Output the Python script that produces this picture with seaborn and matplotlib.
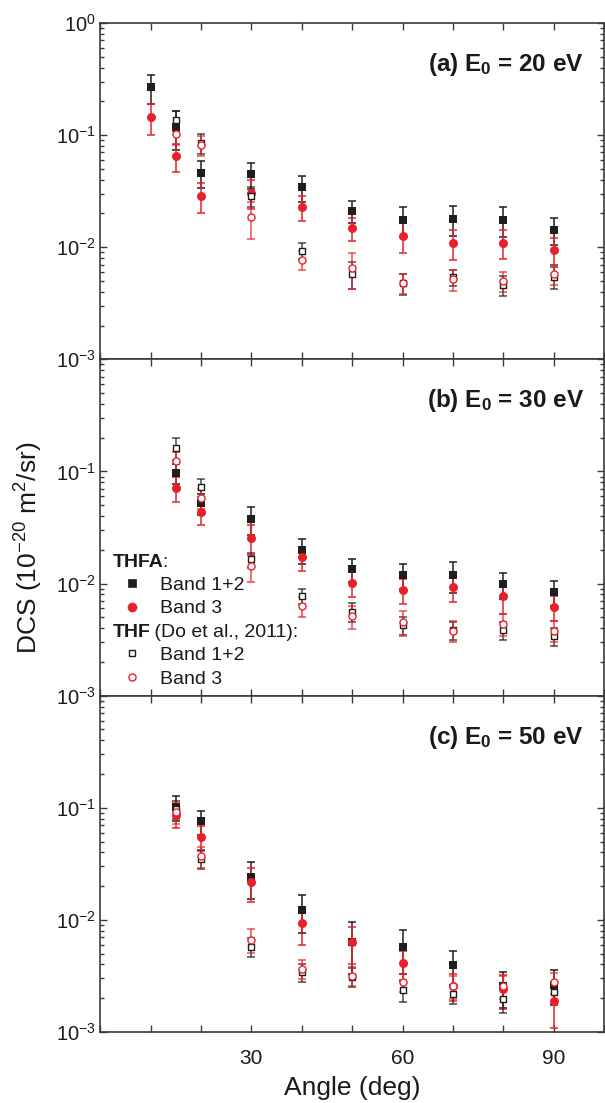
import numpy as np
import pandas as pd
import matplotlib
matplotlib.use("Agg")
import matplotlib.pyplot as plt
import seaborn as sns
from matplotlib.lines import Line2D
from matplotlib.ticker import MultipleLocator, LogLocator, FixedLocator, FixedFormatter, NullFormatter

# ---------------- data ----------------
angles_thfa_a = [10, 15, 20, 30, 40, 50, 60, 70, 80, 90]
angles = [15, 20, 30, 40, 50, 60, 70, 80, 90]

# (a) E0 = 20 eV
a_thfa_b12 = [0.266, 0.119, 0.046, 0.0446, 0.0342, 0.021, 0.0175, 0.0179, 0.0175, 0.0143]
a_thfa_b12_err = [0.075, 0.045, 0.0126, 0.0114, 0.0088, 0.0047, 0.0053, 0.0053, 0.0052, 0.0038]
a_thfa_b3 = [0.144, 0.065, 0.0288, 0.0306, 0.0227, 0.0148, 0.0126, 0.0109, 0.011, 0.00946]
a_thfa_b3_err = [0.044, 0.018, 0.0086, 0.0088, 0.0057, 0.0035, 0.0037, 0.0032, 0.0032, 0.0026]
a_thf_b12 = [0.136, 0.0843, 0.0287, 0.0093, 0.0058, 0.00478, 0.0054, 0.0046, 0.00547]
a_thf_b12_err = [0.028, 0.017, 0.0057, 0.0015, 0.0016, 0.0010, 0.0009, 0.0009, 0.0012]
a_thf_b3 = [0.102, 0.0815, 0.0186, 0.0077, 0.0065, 0.0048, 0.0052, 0.0050, 0.0058]
a_thf_b3_err = [0.020, 0.017, 0.0068, 0.0015, 0.0023, 0.0010, 0.0011, 0.0010, 0.0012]

# (b) E0 = 30 eV
b_thfa_b12 = [0.0968, 0.052, 0.0375, 0.0199, 0.0135, 0.0119, 0.0119, 0.0099, 0.0084]
b_thfa_b12_err = [0.020, 0.011, 0.0105, 0.0050, 0.0031, 0.0029, 0.0036, 0.0026, 0.0021]
b_thfa_b3 = [0.071, 0.0438, 0.0257, 0.0171, 0.0101, 0.0088, 0.0094, 0.0077, 0.0062]
b_thfa_b3_err = [0.018, 0.0105, 0.0076, 0.0041, 0.0025, 0.0022, 0.0025, 0.0023, 0.0016]
b_thf_b12 = [0.162, 0.0725, 0.0164, 0.0078, 0.0056, 0.00425, 0.00383, 0.00383, 0.00338]
b_thf_b12_err = [0.035, 0.013, 0.0025, 0.0012, 0.0011, 0.0008, 0.0007, 0.0007, 0.0006]
b_thf_b3 = [0.123, 0.0578, 0.0143, 0.0063, 0.0051, 0.00454, 0.0038, 0.0044, 0.0038]
b_thf_b3_err = [0.025, 0.012, 0.0040, 0.0013, 0.0012, 0.0011, 0.0008, 0.0010, 0.0008]

# (c) E0 = 50 eV
c_thfa_b12 = [0.102, 0.0757, 0.024, 0.0122, 0.0064, 0.0057, 0.00395, 0.00255, 0.00264]
c_thfa_b12_err = [0.026, 0.018, 0.0085, 0.0046, 0.0031, 0.0024, 0.0013, 0.0009, 0.0009]
c_thfa_b3 = [0.0867, 0.0548, 0.0216, 0.0093, 0.0063, 0.0041, 0.00258, 0.00241, 0.00189]
c_thfa_b3_err = [0.021, 0.014, 0.0072, 0.0033, 0.0023, 0.0012, 0.0007, 0.0008, 0.0008]
c_thf_b12 = [0.098, 0.0352, 0.00578, 0.0034, 0.0031, 0.00235, 0.00218, 0.00197, 0.00226]
c_thf_b12_err = [0.018, 0.0068, 0.0011, 0.0006, 0.0006, 0.0005, 0.0004, 0.0005, 0.0005]
c_thf_b3 = [0.092, 0.0369, 0.00664, 0.00368, 0.00317, 0.00277, 0.00255, 0.00255, 0.00277]
c_thf_b3_err = [0.020, 0.008, 0.0016, 0.0007, 0.0006, 0.0005, 0.0006, 0.0006, 0.0006]

panel_titles = ["(a) E$_{\\mathregular{0}}$ = 20 eV",
                "(b) E$_{\\mathregular{0}}$ = 30 eV",
                "(c) E$_{\\mathregular{0}}$ = 50 eV"]
legend_labels = ["Band 1+2", "Band 3", "Band 1+2", "Band 3"]
legend_headers = [("THFA", ":"), ("THF", " (Do et al., 2011):")]
xtick_vals = [30, 60, 90]
ytick_vals = [1e-3, 1e-2, 1e-1, 1e0]
xlabel = "Angle (deg)"
ylabel = "DCS (10$^{\\mathregular{-20}}$ m$^{\\mathregular{2}}$/sr)"

# ---------------- style ----------------
sns.set_style("ticks")
plt.rcParams["font.family"] = ["Liberation Sans", "DejaVu Sans"]
plt.rcParams["mathtext.fontset"] = "custom"
plt.rcParams["mathtext.rm"] = "Liberation Sans"
plt.rcParams["mathtext.bf"] = "Liberation Sans:bold"
plt.rcParams["mathtext.it"] = "Liberation Sans:italic"

BLACK = "#1e1e1e"
RED = "#e8202a"
SPINE = "#3a3a3a"
TXT = "#1a1a1a"

fig = plt.figure(figsize=(6.05, 11.03), dpi=100)
left, width, height = 0.1658, 0.8326, 0.3049
bottoms = [0.6743, 0.3693, 0.0644]
axes = [fig.add_axes([left, b, width, height]) for b in bottoms]

panels = [
    (angles_thfa_a, a_thfa_b12, a_thfa_b12_err, a_thfa_b3, a_thfa_b3_err,
     a_thf_b12, a_thf_b12_err, a_thf_b3, a_thf_b3_err),
    (angles, b_thfa_b12, b_thfa_b12_err, b_thfa_b3, b_thfa_b3_err,
     b_thf_b12, b_thf_b12_err, b_thf_b3, b_thf_b3_err),
    (angles, c_thfa_b12, c_thfa_b12_err, c_thfa_b3, c_thfa_b3_err,
     c_thf_b12, c_thf_b12_err, c_thf_b3, c_thf_b3_err),
]

legend_handles = None
for i, (ax, p) in enumerate(zip(axes, panels)):
    xa, y12, e12, y3, e3, t12, te12, t3, te3 = p
    series = [
        (xa, y12, e12, BLACK, "s", BLACK, 34, 0.0, 1.0),
        (xa, y3, e3, RED, "o", RED, 42, 0.0, 1.0),
        (angles, t12, te12, BLACK, "s", "white", 22, 1.0, 0.8),
        (angles, t3, te3, RED, "o", "white", 26, 1.0, 0.8),
    ]
    handles = []
    for k, (x, y, e, col, mk, fc, s, lw, al) in enumerate(series):
        ax.errorbar(x, y, yerr=e, fmt="none", ecolor=col, elinewidth=1.1,
                    capsize=3, capthick=1.1, alpha=al, zorder=2 + k)
        df = pd.DataFrame({"angle": x, "dcs": y})
        sns.scatterplot(data=df, x="angle", y="dcs", ax=ax, marker=mk, s=s,
                        color=fc, edgecolor=col, linewidth=lw, zorder=6 + k,
                        legend=False)
        handles.append(Line2D([], [], linestyle="none", marker=mk,
                              markersize=np.sqrt(s), markerfacecolor=fc,
                              markeredgecolor=col, markeredgewidth=max(lw, 0.5)))
    if i == 1:
        legend_handles = handles

    ax.set_yscale("log")
    ax.set_ylim(1e-3, 1e0)
    ax.set_xlim(0, 100)
    ax.set_xlabel("")
    ax.set_ylabel("")
    ax.xaxis.set_major_locator(FixedLocator(xtick_vals))
    ax.xaxis.set_minor_locator(MultipleLocator(10))
    ax.yaxis.set_major_locator(FixedLocator(ytick_vals))
    if i == 0:
        ylabels = ["$\\mathregular{10^{-3}}$", "$\\mathregular{10^{-2}}$",
                   "$\\mathregular{10^{-1}}$", "$\\mathregular{10^{0}}$"]
    else:
        ylabels = ["$\\mathregular{10^{-3}}$", "$\\mathregular{10^{-2}}$",
                   "$\\mathregular{10^{-1}}$", ""]
    ax.yaxis.set_major_formatter(FixedFormatter(ylabels))
    ax.yaxis.set_minor_locator(LogLocator(base=10, subs=np.arange(2, 10)))
    ax.yaxis.set_minor_formatter(NullFormatter())
    ax.tick_params(which="both", direction="in", top=True, right=True,
                   color=SPINE, width=1.0, labelcolor=TXT)
    ax.tick_params(which="major", length=5)
    ax.tick_params(which="minor", length=3)
    ax.tick_params(axis="x", which="minor", length=5)
    ax.tick_params(axis="y", labelsize=14.5, pad=3)
    ax.tick_params(axis="x", labelsize=15, pad=12)
    if i < 2:
        ax.tick_params(axis="x", labelbottom=False)
    for sp in ax.spines.values():
        sp.set_color(SPINE)
        sp.set_linewidth(1.2)
    ax.text(0.960, 0.857, panel_titles[i], transform=ax.transAxes,
            ha="right", va="baseline", fontsize=17.5, fontweight="bold",
            color=TXT)

axes[2].set_xlabel(xlabel, fontsize=19, labelpad=6, color=TXT)
fig.text(0.047, 1 - 548 / 1103, ylabel, rotation=90, ha="center", va="center",
         fontsize=19, color=TXT)

# legend in panel (b)
axb = axes[1]
blank = Line2D([], [], linestyle="none")
leg_handles = [blank, legend_handles[0], legend_handles[1], blank,
               legend_handles[2], legend_handles[3]]
leg_labels = [" ", legend_labels[0], legend_labels[1], " ",
              legend_labels[2], legend_labels[3]]
leg = axb.legend(leg_handles, leg_labels, loc="lower left",
                 bbox_to_anchor=(0.033, 0.012), frameon=False, fontsize=14,
                 handlelength=1.2, handletextpad=0.8, labelspacing=0.3,
                 borderaxespad=0.0, borderpad=0.2, labelcolor=TXT)
fig.canvas.draw()
inv = axb.transAxes.inverted()
texts = leg.get_texts()
x_head = (113 - 100.3) / 503.7
for idx, (bold_part, rest) in zip([0, 3], legend_headers):
    bb = texts[idx].get_window_extent()
    yb = inv.transform((bb.x0, bb.y0))[1]
    t1 = axb.text(x_head, yb, bold_part, transform=axb.transAxes, ha="left",
                  va="bottom", fontsize=14, fontweight="bold", color=TXT)
    axb.annotate(rest, xy=(1, 0), xycoords=t1, xytext=(-1.5, 0),
                 textcoords="offset points", ha="left", va="bottom",
                 fontsize=14, color=TXT)

fig.savefig("out.png", dpi=100)
